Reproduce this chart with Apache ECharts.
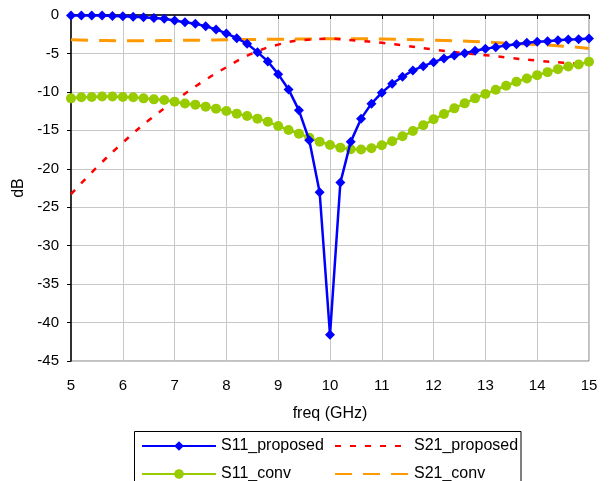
<!DOCTYPE html>
<html>
<head>
<meta charset="utf-8">
<script src="https://cdn.jsdelivr.net/npm/echarts@6/dist/echarts.min.js"></script>
<style>html,body{margin:0;padding:0;background:#fff;}#c{width:613px;height:481px;}</style>
</head>
<body>
<div id="c"></div>
<script>
const freq = [5.0,5.2,5.4,5.6,5.8,6.0,6.2,6.4,6.6,6.8,7.0,7.2,7.4,7.6,7.8,8.0,8.2,8.4,8.6,8.8,9.0,9.2,9.4,9.6,9.8,10.0,10.2,10.4,10.6,10.8,11.0,11.2,11.4,11.6,11.8,12.0,12.2,12.4,12.6,12.8,13.0,13.2,13.4,13.6,13.8,14.0,14.2,14.4,14.6,14.8,15.0];
const s11Proposed = [-0.05,-0.05,-0.07,-0.08,-0.12,-0.17,-0.22,-0.3,-0.4,-0.5,-0.71,-0.94,-1.14,-1.45,-1.88,-2.4,-3.01,-3.74,-4.83,-6.04,-7.69,-9.68,-12.4,-16.3,-23.05,-41.6,-21.8,-16.5,-13.48,-11.53,-10.1,-8.94,-8.03,-7.21,-6.65,-6.13,-5.65,-5.26,-4.96,-4.65,-4.39,-4.18,-3.96,-3.79,-3.61,-3.48,-3.4,-3.27,-3.18,-3.14,-3.05];
const s11Conv = [-10.84,-10.7,-10.67,-10.6,-10.6,-10.67,-10.7,-10.84,-10.97,-11.06,-11.27,-11.5,-11.66,-11.92,-12.18,-12.49,-12.83,-13.14,-13.48,-13.87,-14.44,-14.96,-15.43,-15.95,-16.47,-16.9,-17.25,-17.47,-17.5,-17.34,-16.95,-16.43,-15.78,-15.09,-14.35,-13.57,-12.88,-12.14,-11.49,-10.84,-10.28,-9.72,-9.2,-8.68,-8.25,-7.82,-7.43,-7.04,-6.69,-6.43,-6.08];
const freqS21 = [5.0,5.5,6.0,6.5,7.0,7.5,8.0,8.5,9.0,9.5,10.0,10.5,11.0,11.5,12.0,12.5,13.0,13.5,14.0,14.5,15.0];
const s21Proposed = [-23.3,-19.8,-16.6,-13.7,-11.2,-8.85,-6.8,-5.0,-3.85,-3.25,-3.1,-3.33,-3.62,-4.04,-4.5,-4.9,-5.22,-5.6,-5.93,-6.2,-6.35];
const s21Conv = [-3.22,-3.3,-3.35,-3.35,-3.3,-3.28,-3.22,-3.18,-3.15,-3.12,-3.1,-3.1,-3.12,-3.18,-3.27,-3.38,-3.52,-3.68,-3.85,-4.05,-4.35];

const pair = (xs, ys) => xs.map((x, i) => [x, ys[i]]);
const font = 'Liberation Sans, Arial, sans-serif';
const legendText = {fontSize: 16, color: '#000', fontFamily: font};

const chart = echarts.init(document.getElementById('c'), null, {renderer: 'canvas'});
chart.setOption({
  animation: false,
  backgroundColor: '#fff',
  textStyle: {fontFamily: font},
  grid: {left: 71, right: 24, top: 15, bottom: 120, show: true, borderColor: '#808080', borderWidth: 1, containLabel: false},
  xAxis: {
    type: 'value', min: 5, max: 15, interval: 1,
    name: 'freq (GHz)', nameLocation: 'middle', nameGap: 45,
    nameTextStyle: {fontSize: 16, color: '#000', fontFamily: font},
    axisLine: {lineStyle: {color: '#000', width: 1.5}},
    axisTick: {show: true, length: 4, lineStyle: {color: '#000'}},
    axisLabel: {fontSize: 15, color: '#000', margin: 17, fontFamily: font},
    splitLine: {show: true, lineStyle: {color: '#c8c8c8', width: 1}}
  },
  yAxis: {
    type: 'value', min: -45, max: 0, interval: 5,
    name: 'dB', nameLocation: 'middle', nameGap: 37,
    nameTextStyle: {fontSize: 16, color: '#000', fontFamily: font},
    axisLine: {show: true, lineStyle: {color: '#000', width: 1.5}},
    axisTick: {show: true, length: 4, lineStyle: {color: '#000'}},
    axisLabel: {fontSize: 15, color: '#000', margin: 12, fontFamily: font},
    splitLine: {show: true, lineStyle: {color: '#c8c8c8', width: 1}}
  },
  legend: [
    {data: ['S11_proposed', 'S11_conv'], orient: 'vertical', left: 141, top: 438, height: 120, width: 190,
     itemWidth: 74, itemHeight: 12, itemGap: 12, padding: 0, textStyle: legendText},
    {data: [{name: 'S21_proposed', itemStyle: {opacity: 0}}, {name: 'S21_conv', itemStyle: {opacity: 0}}],
     orient: 'vertical', left: 334, top: 438, height: 120, width: 190,
     itemWidth: 74, itemHeight: 12, itemGap: 12, padding: 0, textStyle: legendText}
  ],
  graphic: [{type: 'rect', shape: {x: 134.5, y: 431.5, width: 386.5, height: 70}, style: {fill: 'none', stroke: '#000', lineWidth: 1}, z: 100}],
  series: [
    {name: 'S21_conv', type: 'line', data: pair(freqS21, s21Conv), smooth: true, showSymbol: false, symbol: 'none', z: 2,
     itemStyle: {color: '#ff9900'}, lineStyle: {color: '#ff9900', width: 3, type: [17, 11]}},
    {name: 'S21_proposed', type: 'line', data: pair(freqS21, s21Proposed), smooth: true, showSymbol: false, symbol: 'none', z: 3,
     itemStyle: {color: '#ff0000'}, lineStyle: {color: '#ff0000', width: 2.5, type: [6, 9]}},
    {name: 'S11_conv', type: 'line', data: pair(freq, s11Conv), symbol: 'circle', symbolSize: 10, z: 4,
     itemStyle: {color: '#99cc00'}, lineStyle: {color: '#99cc00', width: 2.5}},
    {name: 'S11_proposed', type: 'line', data: pair(freq, s11Proposed), symbol: 'diamond', symbolSize: 10, z: 5,
     itemStyle: {color: '#0000ff'}, lineStyle: {color: '#0000ff', width: 2.5}}
  ]
});
</script>
</body>
</html>
